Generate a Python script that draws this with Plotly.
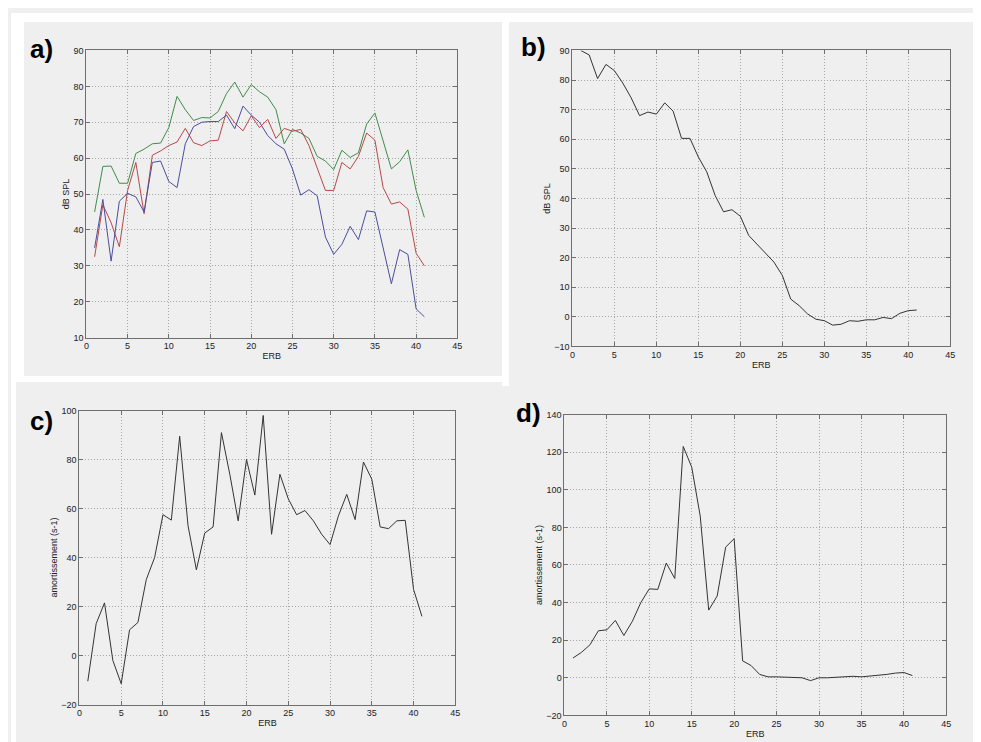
import plotly.graph_objects as go
from plotly.subplots import make_subplots

# ERB band index (x axis for every panel)
erb = [1, 2, 3, 4, 5, 6, 7, 8, 9, 10, 11, 12, 13, 14, 15, 16, 17, 18, 19, 20,
       21, 22, 23, 24, 25, 26, 27, 28, 29, 30, 31, 32, 33, 34, 35, 36, 37, 38, 39, 40, 41]

# panel a) three level curves, dB SPL
a_green = [45, 57.7, 57.8, 53, 53, 61.3, 62.5, 64, 64.2, 68.5, 77.2, 73.5, 70.5, 71.3,
           71.2, 73, 78, 81.2, 77, 80.5, 78.5, 77, 73.5, 64, 68, 67, 65.5, 60.5, 59.2,
           56.8, 62.2, 60.2, 61.5, 69.5, 72.6, 65, 57, 59, 62.3, 51, 43.5]
a_red = [32.5, 47, 42, 35.3, 51, 58.8, 44.5, 60.8, 62, 63.5, 64.5, 68.3, 64.3, 63.5,
         64.8, 65, 73, 69.8, 67.6, 71.8, 68.5, 70.8, 65.5, 68.3, 67.5, 68, 63.5, 57.5,
         51, 51, 58.8, 57, 60.5, 67, 65, 51.8, 47.2, 47.8, 45.8, 33.5, 30]
a_blue = [35, 48.5, 31.3, 48, 50.2, 49.2, 45, 58.8, 59.2, 53.5, 51.8, 64, 68.8, 70,
          70.2, 70.2, 72, 68.2, 74.5, 72, 70, 66.3, 64, 62.5, 57, 49.7, 51.2, 49.5, 38,
          33.2, 36, 41, 37.3, 45.3, 45, 35, 25, 34.5, 33.2, 18, 15.8]

# panel b) dB SPL
b_level = [90, 88.5, 80.5, 85.3, 83.2, 79, 74, 68, 69.2, 68.5, 72.3, 69.5, 60.3, 60.3,
           54, 49, 41, 35.5, 36.2, 34, 27.5, 24.5, 21.2, 18.5, 14, 6, 3.8, 1, -0.8,
           -1.3, -2.8, -2.5, -1.3, -1.5, -1, -1, -0.2, -0.6, 1.2, 2.1, 2.3]

# panel c) damping (s-1)
c_damp = [-10.5, 13, 21.5, -2, -11.5, 10.5, 13.5, 31, 40, 57.5, 55.3, 89.5, 53, 35,
          50, 52.5, 91, 74, 55, 80, 65.5, 98, 49.5, 74, 64, 57.5, 59.2, 55, 49.5, 45.3,
          57, 65.8, 55.5, 79, 72, 52.5, 51.8, 55, 55.2, 27, 16]

# panel d) damping (s-1)
d_damp = [10.5, 13.5, 17.5, 25, 25.5, 30.5, 22.5, 30, 40, 47.3, 47, 61, 52.8, 123,
          112, 86, 36, 43.5, 69.5, 74, 9, 6.5, 1.8, 0.5, 0.5, 0.3, 0, 0, -1.5, 0, 0,
          0.3, 0.5, 0.8, 0.5, 0.8, 1.5, 1.8, 2.5, 2.8, 1.2]

BG = '#efefef'
W, H = 981, 742

fig = make_subplots(rows=2, cols=2)

line_a = [(a_green, '#3f8c4a'), (a_red, '#b84848'), (a_blue, '#4c4c9c')]
for ys, col in line_a:
    fig.add_trace(go.Scatter(x=erb, y=ys, mode='lines', line=dict(color=col, width=1)),
                  row=1, col=1)
fig.add_trace(go.Scatter(x=erb, y=b_level, mode='lines', line=dict(color='#333333', width=1)),
              row=1, col=2)
fig.add_trace(go.Scatter(x=erb, y=c_damp, mode='lines', line=dict(color='#333333', width=1)),
              row=2, col=1)
fig.add_trace(go.Scatter(x=erb, y=d_damp, mode='lines', line=dict(color='#333333', width=1)),
              row=2, col=2)


def px_x(p):
    return p / W


def px_y(p):
    return 1 - p / H


# axes boxes in pixels: (left, right, top, bottom)
boxes = [(76, 450, 38, 329), (566, 947, 38, 338), (69, 448, 403, 701), (558, 943, 407, 712)]
yranges = [(10, 90, 10), (-10, 90, 10), (-20, 100, 20), (-20, 140, 20)]
ytitles = ['dB SPL', 'dB SPL', 'amortissement (s-1)', 'amortissement (s-1)']

axis_style = dict(
    showline=True, linecolor='#6e6e6e', linewidth=1, mirror='ticks',
    ticks='inside', ticklen=4, tickcolor='#6e6e6e',
    showgrid=True, gridcolor='#a6a6a6', griddash='1px,2px', gridwidth=1,
    zeroline=False, tickfont=dict(size=9, color='#222222'),
)

for i, ((l, r, t, b), (y0, y1, dy), yt) in enumerate(zip(boxes, yranges, ytitles)):
    n = '' if i == 0 else str(i + 1)
    fig.layout['xaxis' + n].update(
        domain=[px_x(l), px_x(r)], range=[0, 45], dtick=5, tick0=0,
        title=dict(text='ERB', font=dict(size=9, color='#222222'), standoff=2),
        **axis_style)
    fig.layout['yaxis' + n].update(
        domain=[px_y(b), px_y(t)], range=[y0, y1], dtick=dy, tick0=0,
        title=dict(text=yt, font=dict(size=9, color='#222222'), standoff=2),
        **axis_style)

# white gaps between the scanned panels
strips = [(0, 981, 0, 9), (0, 13, 0, 368), (0, 496, 368, 374), (495, 502, 0, 378),
          (0, 5, 374, 742)]
shapes = []
for x0, x1, y0, y1 in strips:
    shapes.append(dict(type='rect', xref='paper', yref='paper', layer='below',
                       x0=px_x(x0), x1=px_x(x1), y0=px_y(y1), y1=px_y(y0),
                       fillcolor='white', line=dict(width=0)))

labels = [('a)', 17, 36), ('b)', 512, 34), ('c)', 17, 414), ('d)', 507, 405)]
annotations = []
for txt, x, y in labels:
    annotations.append(dict(text='<b>%s</b>' % txt, xref='paper', yref='paper',
                            x=px_x(x), y=px_y(y), xanchor='left', yanchor='middle',
                            showarrow=False, font=dict(size=26, color='black')))

fig.update_layout(
    width=W, height=H,
    margin=dict(l=0, r=0, t=0, b=0),
    paper_bgcolor=BG, plot_bgcolor=BG,
    font=dict(family='Liberation Sans, Arial, sans-serif'),
    showlegend=False,
    shapes=shapes,
    annotations=annotations,
)

fig.write_html("out.html")
